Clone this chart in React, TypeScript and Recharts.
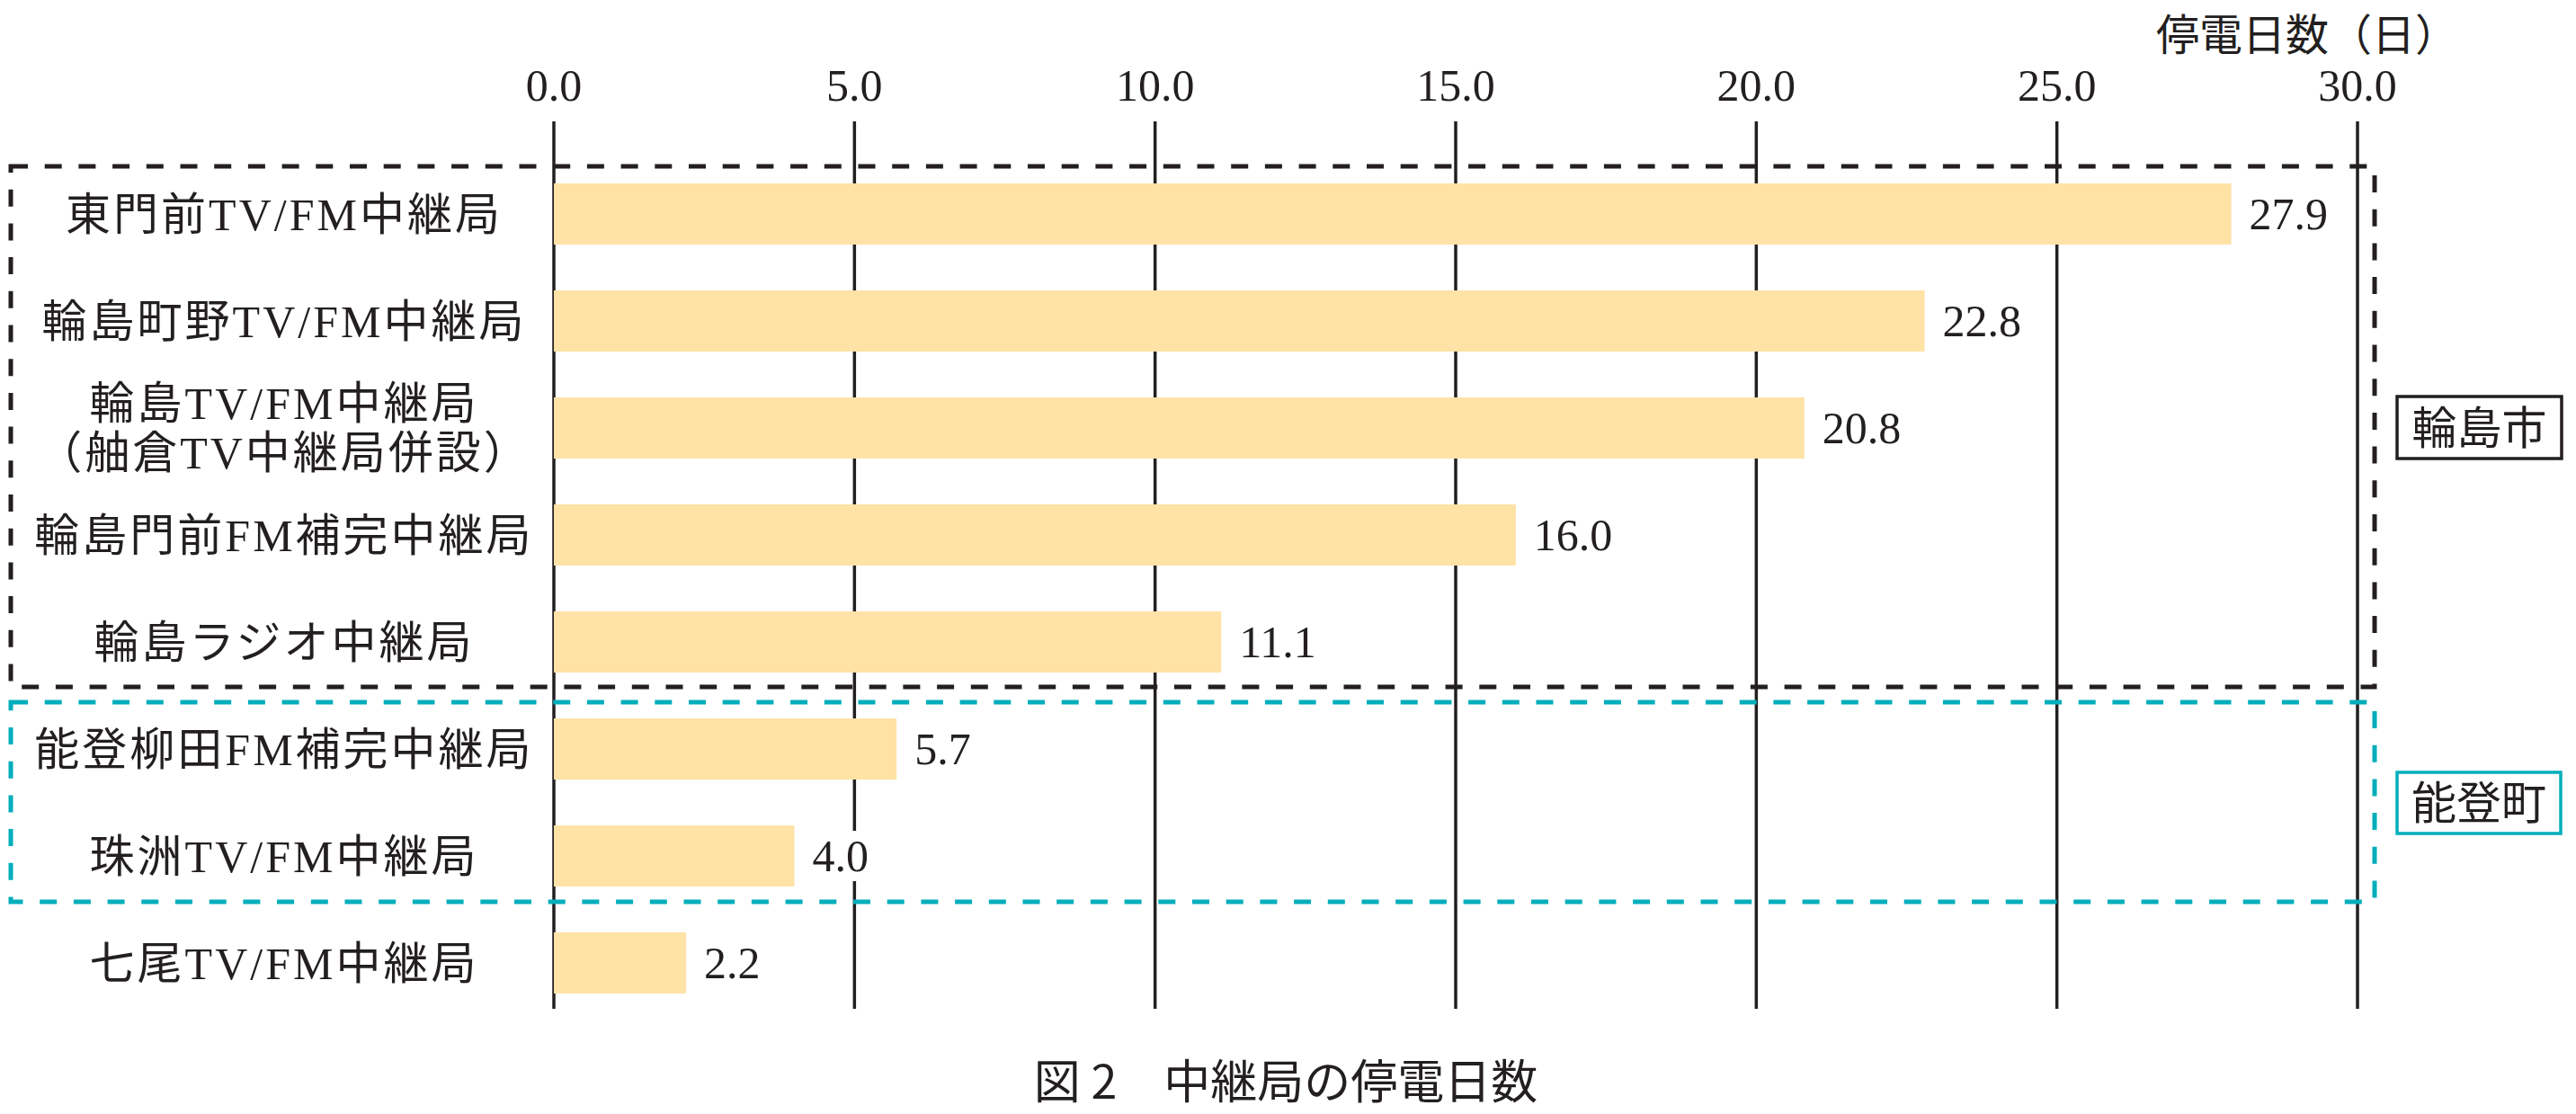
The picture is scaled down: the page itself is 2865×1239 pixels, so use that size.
import { BarChart, Bar, XAxis, YAxis, CartesianGrid, LabelList, Customized } from "recharts"

const stations = [
  "東門前TV/FM中継局",
  "輪島町野TV/FM中継局",
  "輪島TV/FM中継局\n（舳倉TV中継局併設）",
  "輪島門前FM補完中継局",
  "輪島ラジオ中継局",
  "能登柳田FM補完中継局",
  "珠洲TV/FM中継局",
  "七尾TV/FM中継局",
]

const outageDays = [27.9, 22.8, 20.8, 16.0, 11.1, 5.7, 4.0, 2.2]

const dayTicks = [0, 5, 10, 15, 20, 25, 30]

const data = stations.map((name, i) => ({ name, days: outageDays[i] }))

const INK = "#231f20"
const TEAL = "#00aebb"
const SERIF = '"Liberation Serif", "Noto Sans CJK JP", serif'
const GOTHIC = '"Noto Sans CJK JP", sans-serif'

const W = 2849
const H = 1239

const DayTick = ({ x, payload }: any) => (
  <text x={x} y={112} textAnchor="middle" fontSize={50} fontFamily={SERIF} fill={INK}>
    {Number(payload.value).toFixed(1)}
  </text>
)

const StationTick = ({ y, payload }: any) => {
  const lines = String(payload.value).split("\n")
  const lh = 55
  const top = y - ((lines.length - 1) * lh) / 2
  return (
    <text textAnchor="middle" fontSize={50} letterSpacing={3} fontFamily={SERIF} fill={INK}>
      {lines.map((line, i) => (
        <tspan key={i} x={308} y={top + i * lh} dy="0.36em">
          {line}
        </tspan>
      ))}
    </text>
  )
}

const ValueLabel = ({ x, y, width, height, value }: any) => {
  const s = Number(value).toFixed(1)
  const tx = x + width + 20
  const cy = y + height / 2
  const w = (s.length - 1) * 25 + 12.5
  return (
    <g>
      <rect x={tx - 4} y={cy - 28} width={w + 8} height={56} fill="#fff" />
      <text x={tx} y={cy} dy="0.34em" fontSize={50} fontFamily={SERIF} fill={INK}>
        {s}
      </text>
    </g>
  )
}

// dashed group frames (drawn under the grid)
const GroupFrames = () => (
  <g>
    <rect x={4} y={185} width={2629} height={579} fill="none" stroke={INK} strokeWidth={5} strokeDasharray="19 18.7" />
    <rect x={4} y={781} width={2629} height={222} fill="none" stroke={TEAL} strokeWidth={5} strokeDasharray="19 18.7" />
  </g>
)

// area tags, unit and caption
const Notes = () => (
  <g>
    <rect x={2658} y={441} width={183} height={69} fill="#fff" stroke={INK} strokeWidth={3.5} />
    <text x={2749.5} y={475.5} dy="0.36em" textAnchor="middle" fontSize={50} fontFamily={GOTHIC} fill={INK}>
      輪島市
    </text>
    <rect x={2658} y={859} width={182} height={68} fill="#fff" stroke={TEAL} strokeWidth={3.5} />
    <text x={2749} y={893} dy="0.36em" textAnchor="middle" fontSize={50} fontFamily={GOTHIC} fill={INK}>
      能登町
    </text>

    <text x={2558} y={56} textAnchor="middle" fontSize={48} fontFamily={GOTHIC} fill={INK}>
      停電日数（日）
    </text>

    <text x={1422} y={1203} dy="0.36em" textAnchor="middle" fontSize={52} fontFamily={GOTHIC} fill={INK}>
      図 2　中継局の停電日数
    </text>
  </g>
)

export default function App() {
  return (
    <div style={{ marginTop: -8 }}>
      <BarChart
        width={W}
        height={H}
        data={data}
        layout="vertical"
        margin={{ top: 0, right: 235, bottom: 117, left: 0 }}
      >
        <Customized component={GroupFrames} />
        <CartesianGrid horizontal={false} stroke={INK} strokeWidth={3.5} />
        <XAxis
          type="number"
          orientation="top"
          domain={[0, 30]}
          ticks={dayTicks}
          height={135}
          axisLine={false}
          tickLine={false}
          tick={<DayTick />}
        />
        <YAxis
          type="category"
          dataKey="name"
          width={608}
          axisLine={false}
          tickLine={false}
          interval={0}
          padding={{ top: 43, bottom: -8 }}
          tick={<StationTick />}
        />
        <Bar dataKey="days" fill="#fee2a6" barSize={68} isAnimationActive={false}>
          <LabelList dataKey="days" content={<ValueLabel />} />
        </Bar>
        <Customized component={Notes} />
      </BarChart>
    </div>
  )
}
